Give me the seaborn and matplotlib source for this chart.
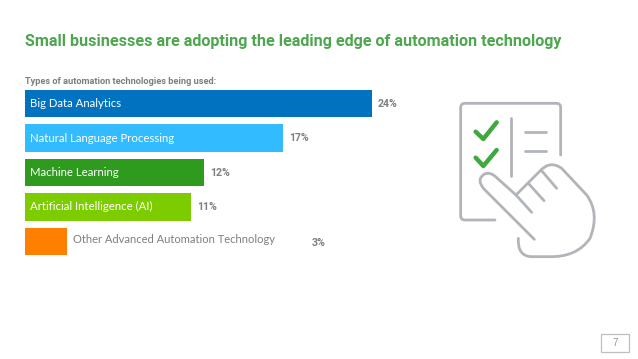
import matplotlib
matplotlib.use("Agg")
import matplotlib.pyplot as plt
from matplotlib.path import Path
from matplotlib.patches import PathPatch, Rectangle
import pandas as pd
import seaborn as sns

# DATA
categories = ["Big Data Analytics", "Natural Language Processing", "Machine Learning",
              "Artificial Intelligence (AI)", "Other Advanced Automation Technology"]
bar_lengths = [24, 17.85, 12.4, 11.5, 2.9]   # lengths as drawn, not quite the printed numbers
pct_labels = ["24%", "17%", "12%", "11%", "3%"]
bar_colors = ["#0072BF", "#33BBFF", "#2E9A1E", "#7CCC00", "#FF8000"]

title_text = "Small businesses are adopting the leading edge of automation technology"
subtitle_text = "Types of automation technologies being used:"
page_number = "7"

W, H = 638, 359
GREY = "#7F7F7F"
ICON = "#B1B4B9"
HEAD = ["Roboto", "Liberation Sans", "DejaVu Sans"]

sns.set_theme(style="white")
plt.rcParams["font.family"] = ["Liberation Sans", "DejaVu Sans"]

fig = plt.figure(figsize=(W / 100, H / 100), dpi=100, facecolor="white")

# bars, axes placed in pixels
ax = fig.add_axes([25 / W, 1 - 258.5 / H, 347 / W, 172 / H])
df = pd.DataFrame({"name": categories, "value": bar_lengths})
sns.barplot(data=df, x="value", y="name", hue="name", palette=bar_colors,
            legend=False, width=0.8, saturation=1, linewidth=0, ax=ax)
ax.set_xlim(0, 24)
ax.set_ylim(4.5, -0.5)
ax.axis("off")

# labels inside the bars + percentages
for i, bar in enumerate(ax.patches[:5]):
    yc = bar.get_y() + bar.get_height() / 2
    if i < 4:
        ax.annotate(categories[i], (0, yc), xytext=(3.8, 0), textcoords="offset points",
                    color="white", fontsize=8.2, family="Lato", va="center", annotation_clip=False)
        ax.annotate(pct_labels[i], (bar.get_width(), yc), xytext=(4.2, 0), textcoords="offset points",
                    color=GREY, fontsize=7.6, fontweight="bold", family=HEAD, va="center",
                    annotation_clip=False)
    else:
        ax.annotate(categories[i], (bar.get_width(), yc), xytext=(4.5, 1), textcoords="offset points",
                    color=GREY, fontsize=8.0, family="Lato", va="center", annotation_clip=False)
        ax.annotate(pct_labels[i], (bar.get_width(), yc), xytext=(176, -1), textcoords="offset points",
                    color=GREY, fontsize=7.6, fontweight="bold", family=HEAD, va="center",
                    annotation_clip=False)

# overlay in pixel coords for texts and icon
ov = fig.add_axes([0, 0, 1, 1], facecolor="none")
ov.set_xlim(0, W)
ov.set_ylim(H, 0)
ov.axis("off")

ov.text(25, 41.5, title_text, color="#4EA64E", fontsize=11.58, fontweight="bold", family=HEAD, va="center")
ov.text(25, 81.5, subtitle_text, color=GREY, fontsize=6.65, fontweight="bold", family=HEAD, va="center")

# page number box
ov.add_patch(Rectangle((601, 334), 28, 18, fill=False, ec="#BFBFBF", lw=0.9))
ov.text(615, 343, page_number, color="#999999", fontsize=7, ha="center", va="center")


def z(px, py):
    return 440 + px / 3, 85 + py / 3


def line(pts, color=ICON, lw=2.0):
    xs, ys = zip(*[z(*p) for p in pts])
    ov.plot(xs, ys, color=color, lw=lw, solid_capstyle="round", solid_joinstyle="round")


# document
doc = [(362, 210), (362, 68), (362, 55), (349, 55), (75, 55), (62, 55), (62, 68),
       (62, 392), (62, 405), (75, 405), (165, 405)]
doc_codes = [Path.MOVETO, Path.LINETO, Path.CURVE3, Path.CURVE3, Path.LINETO, Path.CURVE3, Path.CURVE3,
             Path.LINETO, Path.CURVE3, Path.CURVE3, Path.LINETO]
ov.add_patch(PathPatch(Path([z(*p) for p in doc], doc_codes), fill=False, ec=ICON, lw=2.0, capstyle="round"))
line([(212, 100), (212, 272)])
line([(255, 140), (318, 140)])
line([(255, 197), (318, 197)])

# checks
line([(107, 140), (130, 162), (170, 112)], color="#3FA93F", lw=3.2)
line([(107, 218), (130, 243), (170, 195)], color="#3FA93F", lw=3.2)

# hand
hand = [(283, 463), (132, 312), (108, 285), (132, 268), (150, 258), (170, 278),
        (228, 330), (300, 258), (330, 225), (365, 250), (440, 330),
        (480, 385), (450, 460), (410, 518), (325, 515), (272, 515), (232, 512), (235, 460)]
hand_codes = [Path.MOVETO, Path.LINETO, Path.CURVE3, Path.CURVE3, Path.CURVE3, Path.CURVE3,
              Path.LINETO, Path.LINETO, Path.CURVE3, Path.CURVE3, Path.LINETO,
              Path.CURVE3, Path.CURVE3, Path.CURVE3, Path.CURVE3, Path.LINETO, Path.CURVE3, Path.CURVE3]
ov.add_patch(PathPatch(Path([z(*p) for p in hand], hand_codes), fill=False, ec=ICON, lw=2.0,
                       capstyle="round", joinstyle="round"))
line([(228, 330), (275, 382)])
line([(265, 295), (312, 347)])
line([(303, 255), (350, 310)])

fig.savefig("out.png", dpi=100)
